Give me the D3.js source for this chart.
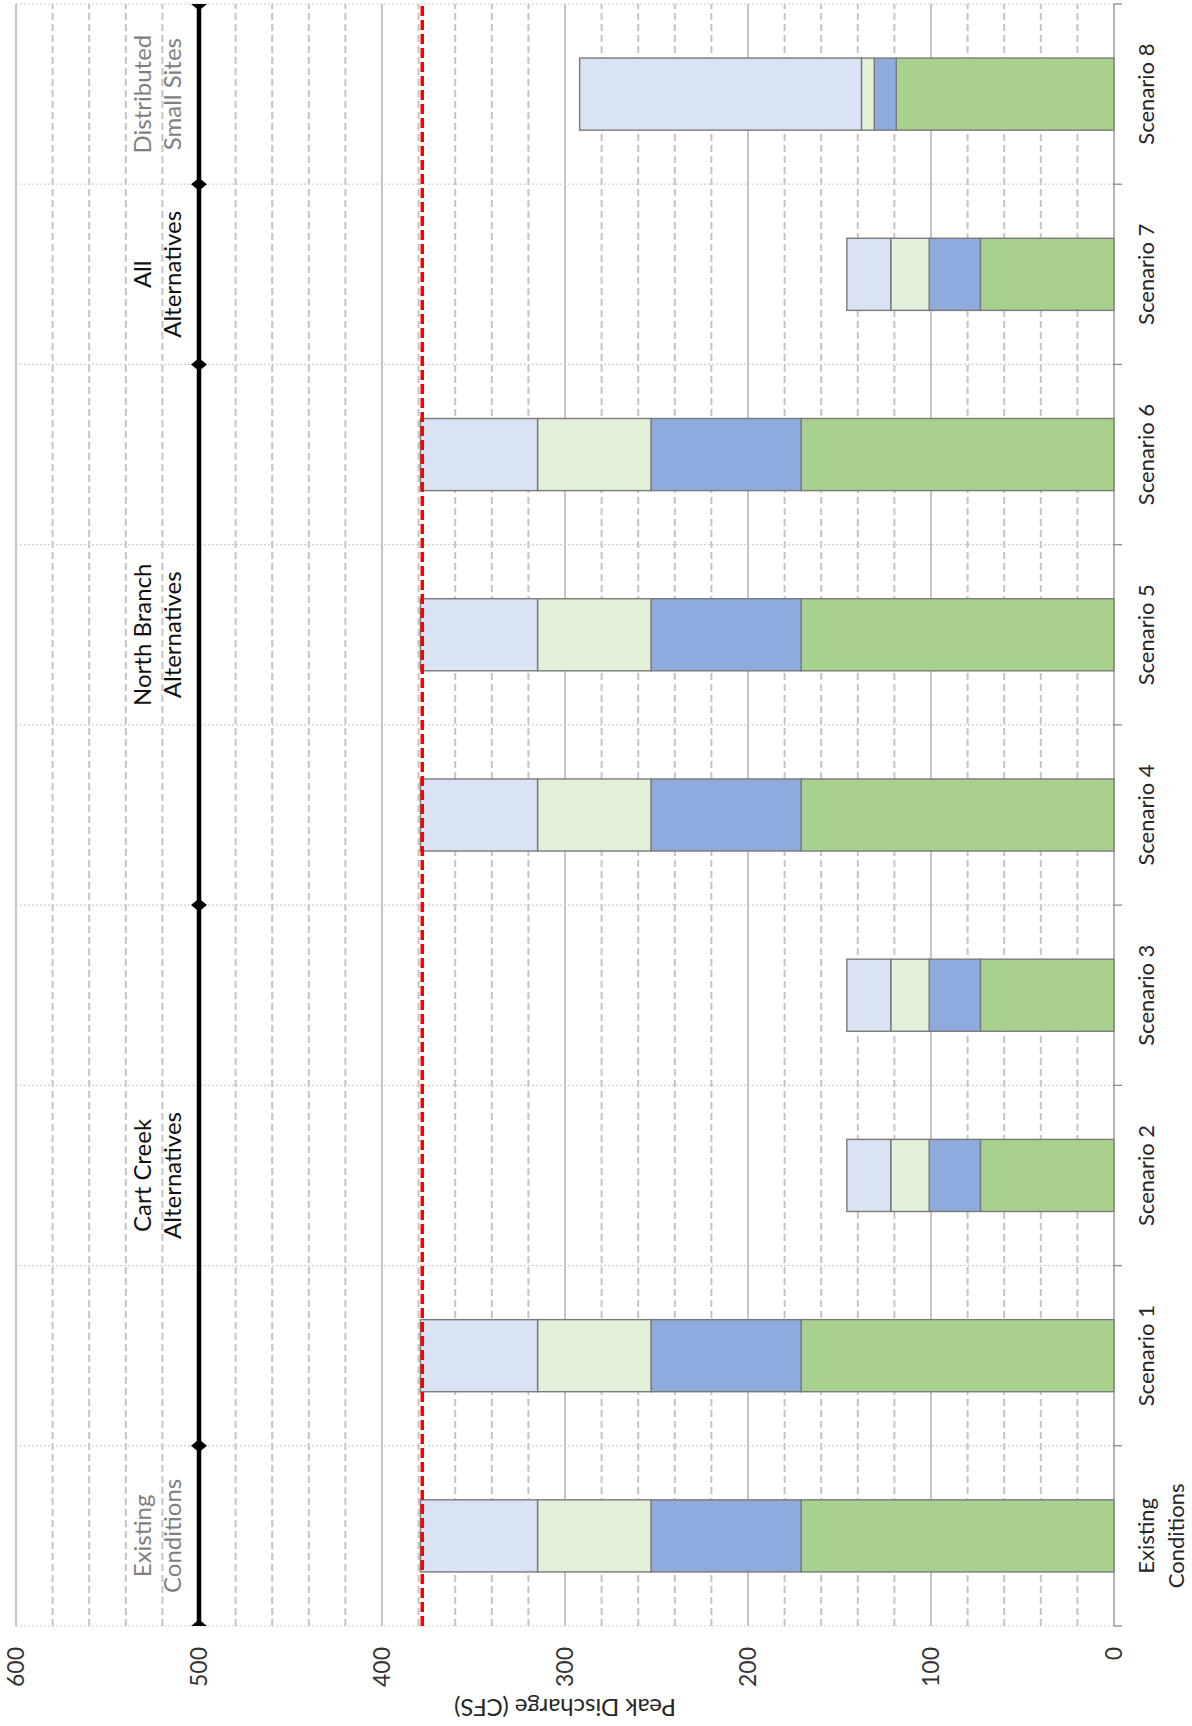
<!DOCTYPE html>
<html>
<head>
<meta charset="utf-8">
<script src="https://cdn.jsdelivr.net/npm/d3@7"></script>
<style>
  body { margin: 0; background: #fff; }
  svg { display: block; font-family: Lato, "Open Sans", sans-serif; }
</style>
</head>
<body>
<div id="chart"></div>
<script>
// Stacked peak discharge per scenario (CFS), bottom segment first
const categories = ['Existing Conditions', 'Scenario 1', 'Scenario 2', 'Scenario 3', 'Scenario 4',
    'Scenario 5', 'Scenario 6', 'Scenario 7', 'Scenario 8'];
const greenVals = [171, 171, 73, 73, 171, 171, 171, 73, 119];
const blueVals = [82, 82, 28, 28, 82, 82, 82, 28, 12];
const paleGreenVals = [62, 62, 21, 21, 62, 62, 62, 21, 7];
const paleBlueVals = [64, 64, 24, 24, 64, 64, 64, 24, 154];
const valueTicks = [0, 100, 200, 300, 400, 500, 600];
const limitValue = 378;

// Scenario groups, separated at these category boundaries
const groupLabels = [['Existing', 'Conditions'], ['Cart Creek', 'Alternatives'],
    ['North Branch', 'Alternatives'], ['All', 'Alternatives'], ['Distributed', 'Small Sites']];
const groupBreaks = [0, 1, 4, 7, 8, 9];
const groupLineValue = 500;

const segKeys = ['green', 'blue', 'paleGreen', 'paleBlue'];
const segColors = { green: '#a9d18e', blue: '#8faadc', paleGreen: '#e2f0d9', paleBlue: '#dae3f3' };
const groupColors = ['#7f7f7f', '#111', '#111', '#111', '#7f7f7f'];

const rows = categories.map((c, i) => ({
    category: c,
    green: greenVals[i],
    blue: blueVals[i],
    paleGreen: paleGreenVals[i],
    paleBlue: paleBlueVals[i]
}));

// The chart is laid out upright and then turned a quarter turn counter-clockwise
const W = 1726, H = 1192;

const svg = d3.select('#chart')
    .append('svg')
    .attr('width', H)
    .attr('height', W);

const g = svg.append('g')
    .attr('transform', `translate(0,${W}) rotate(-90)`);

const x = d3.scaleBand()
    .domain(categories)
    .range([100, 1722])
    .paddingInner(0.6)
    .paddingOuter(0.3);

const y = d3.scaleLinear()
    .domain([0, 600])
    .range([1114, 16]);

const edge = i => x.range()[0] + i * x.step();
const [x0, x1] = x.range();

// Minor dashed gridlines
g.append('g')
    .selectAll('line')
    .data(y.ticks(30).filter(v => v % 100 !== 0))
    .enter()
    .append('line')
    .attr('x1', x0).attr('x2', x1)
    .attr('y1', d => y(d)).attr('y2', d => y(d))
    .attr('stroke', '#c4c4c4')
    .attr('stroke-width', 2)
    .attr('stroke-dasharray', '7,4');

// Major gridlines
g.append('g')
    .selectAll('line')
    .data(valueTicks.filter(v => v !== 0))
    .enter()
    .append('line')
    .attr('x1', x0).attr('x2', x1)
    .attr('y1', d => y(d)).attr('y2', d => y(d))
    .attr('stroke', '#a6a6a6')
    .attr('stroke-width', 1.3);

// Category boundary gridlines
g.append('g')
    .selectAll('line')
    .data(d3.range(categories.length + 1))
    .enter()
    .append('line')
    .attr('x1', d => edge(d)).attr('x2', d => edge(d))
    .attr('y1', y(600)).attr('y2', y(0))
    .attr('stroke', '#d0d0d0')
    .attr('stroke-width', 1.2)
    .attr('stroke-dasharray', '2,2');

// Stacked bars
const stacked = d3.stack().keys(segKeys)(rows);

g.append('g')
    .selectAll('g')
    .data(stacked)
    .enter()
    .append('g')
    .attr('fill', d => segColors[d.key])
    .selectAll('rect')
    .data(d => d)
    .enter()
    .append('rect')
    .attr('x', d => x(d.data.category))
    .attr('width', x.bandwidth())
    .attr('y', d => y(d[1]))
    .attr('height', d => y(d[0]) - y(d[1]))
    .attr('stroke', '#7a7a7a')
    .attr('stroke-width', 1.4);

// Category axis line and boundary ticks
g.append('line')
    .attr('x1', x0).attr('x2', x1)
    .attr('y1', y(0)).attr('y2', y(0))
    .attr('stroke', '#8c8c8c')
    .attr('stroke-width', 1.3);

g.append('g')
    .selectAll('line')
    .data(d3.range(categories.length + 1))
    .enter()
    .append('line')
    .attr('x1', d => edge(d)).attr('x2', d => edge(d))
    .attr('y1', y(0)).attr('y2', y(0) + 8)
    .attr('stroke', '#8c8c8c')
    .attr('stroke-width', 1.3);

// Red limit line
g.append('line')
    .attr('x1', x0).attr('x2', x1)
    .attr('y1', y(limitValue)).attr('y2', y(limitValue))
    .attr('stroke', '#ff0000')
    .attr('stroke-width', 3.5)
    .attr('stroke-dasharray', '10,4');

// Group separator line with diamond markers, clipped to the plot
svg.append('defs')
    .append('clipPath')
    .attr('id', 'plotClip')
    .append('rect')
    .attr('x', x0).attr('y', 0)
    .attr('width', x1 - x0).attr('height', H);

const groupLayer = g.append('g').attr('clip-path', 'url(#plotClip)');

groupLayer.append('path')
    .datum(groupBreaks)
    .attr('fill', 'none')
    .attr('stroke', '#000')
    .attr('stroke-width', 4.5)
    .attr('d', d3.line().x(d => edge(d)).y(() => y(groupLineValue)));

groupLayer.selectAll('.marker')
    .data(groupBreaks)
    .enter()
    .append('path')
    .attr('class', 'marker')
    .attr('transform', d => `translate(${edge(d)},${y(groupLineValue)})`)
    .attr('d', 'M0,-8L6.5,0L0,8L-6.5,0Z')
    .attr('fill', '#000');

// Group labels
groupLabels.forEach((lines, i) => {
    const cx = (edge(groupBreaks[i]) + edge(groupBreaks[i + 1])) / 2;
    const t = g.append('text')
        .attr('text-anchor', 'middle')
        .attr('fill', groupColors[i])
        .style('font-size', '24px');
    lines.forEach((line, j) => {
        t.append('tspan')
            .attr('x', cx)
            .attr('y', y(groupLineValue) - 48 + j * 30)
            .text(line);
    });
});

// Value axis labels
const yAxis = g.append('g')
    .attr('transform', `translate(${x0},0)`)
    .call(d3.axisLeft(y).tickValues(valueTicks).tickSize(0).tickPadding(21));

yAxis.select('.domain').remove();
yAxis.selectAll('text')
    .style('font-size', '23px')
    .style('font-family', 'Lato')
    .attr('fill', '#333');

// Category labels
const xAxis = g.append('g')
    .attr('transform', `translate(0,${y(0)})`)
    .call(d3.axisBottom(x).tickSize(0));

xAxis.select('.domain').remove();
xAxis.selectAll('.tick text')
    .style('font-size', '22px')
    .style('font-family', 'Lato')
    .attr('fill', '#262626')
    .attr('y', 40)
    .attr('dy', null)
    .each(function(d) {
        const el = d3.select(this);
        const words = d === 'Existing Conditions' ? ['Existing', 'Conditions'] : [d];
        el.text(null);
        words.forEach((w, j) => {
            el.append('tspan')
                .attr('x', 0)
                .attr('y', 40 + j * 30)
                .text(w);
        });
    });

// Axis title
g.append('text')
    .attr('transform', `translate(27,${(y(0) + y(600)) / 2}) rotate(-90)`)
    .attr('text-anchor', 'middle')
    .attr('fill', '#262626')
    .style('font-size', '24px')
    .text('Peak Discharge (CFS)');
</script>
</body>
</html>
